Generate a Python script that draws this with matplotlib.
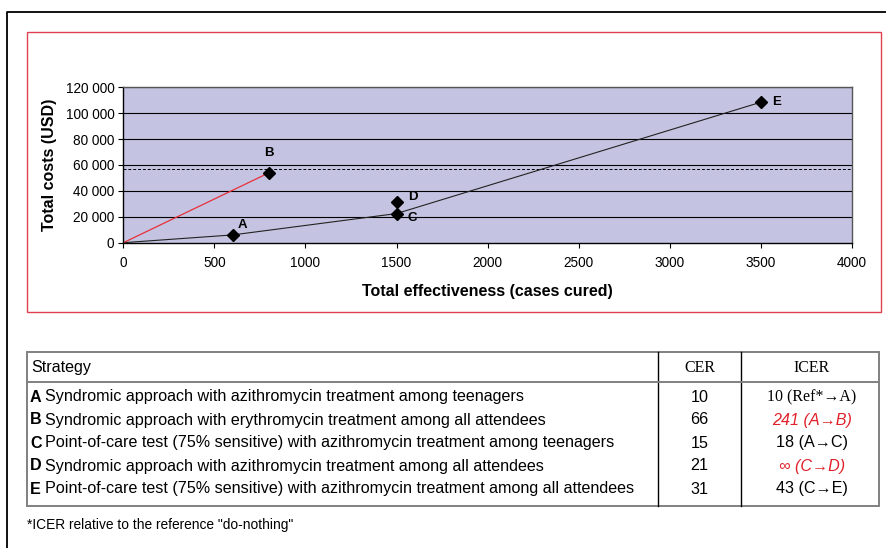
import matplotlib
matplotlib.use("Agg")
import matplotlib.pyplot as plt
from matplotlib.patches import Rectangle

plt.rcParams["font.family"] = ["Liberation Sans", "DejaVu Sans"]

# ---------- Data ---------- #

strategies = ["A", "B", "C", "D", "E"]
effectiveness = [600, 800, 1500, 1500, 3500]      # cases cured
total_costs = [6000, 54000, 22500, 31500, 108500]  # USD
frontier = ["A", "C", "E"]                         # efficient path from do-nothing
extended = ["B"]                                   # compared against A, drawn in red
budget_line = 57000

x_ticks = [0, 500, 1000, 1500, 2000, 2500, 3000, 3500, 4000]
y_ticks = [0, 20000, 40000, 60000, 80000, 100000, 120000]
y_tick_labels = ["0", "20 000", "40 000", "60 000", "80 000", "100 000", "120 000"]

descriptions = [
    "Syndromic approach with azithromycin treatment among teenagers",
    "Syndromic approach with erythromycin treatment among all attendees",
    "Point-of-care test (75% sensitive) with azithromycin treatment among teenagers",
    "Syndromic approach with azithromycin treatment among all attendees",
    "Point-of-care test (75% sensitive) with azithromycin treatment among all attendees",
]
cer = ["10", "66", "15", "21", "31"]
icer = ["10 (Ref*\u2192A)", "241 (A\u2192B)", "18 (A\u2192C)", "\u221e (C\u2192D)", "43 (C\u2192E)"]
icer_dominated = [False, True, False, True, False]
footnote = '*ICER relative to the reference "do-nothing"'

# ---------- Figure ---------- #

W, H = 887, 548
fig = plt.figure(figsize=(W / 100, H / 100), dpi=100)

# overlay in pixel units for frames and the table
bg = fig.add_axes([0, 0, 1, 1], zorder=0)
bg.set_xlim(0, W)
bg.set_ylim(H, 0)
bg.axis("off")

bg.plot([7, 7, W], [H, 12, 12], color="black", lw=1.3, solid_capstyle="butt")
bg.add_patch(Rectangle((27, 32), 854, 280, fill=False, edgecolor="#E04050", lw=1.0))

# ---------- Cost-effectiveness plane ---------- #

px0, px1, py0, py1 = 123.3, 852, 87.3, 242.7
ax = fig.add_axes([px0 / W, 1 - py1 / H, (px1 - px0) / W, (py1 - py0) / H], zorder=2)
ax.set_facecolor("#C4C4E2")
ax.set_xlim(0, 4000)
ax.set_ylim(0, 120000)

for y in y_ticks[1:]:
    ax.axhline(y, color="black", lw=0.8, zorder=1)
ax.axhline(budget_line, color="black", lw=0.7, ls=(0, (3, 2)), zorder=1)

pts = dict(zip(strategies, zip(effectiveness, total_costs)))
fx = [0] + [pts[s][0] for s in frontier]
fy = [0] + [pts[s][1] for s in frontier]
ax.plot(fx, fy, color="#222222", lw=0.8, zorder=2)
for s in extended:
    ax.plot([0, pts[s][0]], [0, pts[s][1]], color="#E8303A", lw=0.9, zorder=2)

ax.plot(effectiveness, total_costs, ls="none", marker="D", ms=6.5,
        color="black", zorder=3, clip_on=False)

label_offsets = {"A": (7, 7), "B": (0, 14), "C": (11.5, -3), "D": (11.5, 3.5), "E": (11.5, 0)}
for s in strategies:
    ax.annotate(s, pts[s], xytext=label_offsets[s], textcoords="offset points",
                ha="center", va="center", fontsize=9.5, fontweight="bold", zorder=4)

ax.set_xticks(x_ticks)
ax.set_xticklabels([str(v) for v in x_ticks])
ax.set_yticks(y_ticks)
ax.set_yticklabels(y_tick_labels)
ax.tick_params(labelsize=9.8, length=3.5, width=0.8, direction="out")
ax.tick_params(axis="x", pad=6)
ax.tick_params(axis="y", pad=3)

for side in ["left", "bottom"]:
    ax.spines[side].set_color("black")
    ax.spines[side].set_linewidth(1.0)
for side in ["top", "right"]:
    ax.spines[side].set_color("#555555")
    ax.spines[side].set_linewidth(1.0)

ax.set_xlabel("Total effectiveness (cases cured)", fontsize=11.5, fontweight="bold", labelpad=10)
ax.set_ylabel("Total costs (USD)", fontsize=11.5, fontweight="bold", labelpad=6)

# ---------- Table ---------- #

tx0, tx1, ty0, ty1 = 27, 879, 352, 505.5
col1, col2 = 658, 741.5
head_bot = 381.5
grey = "#808080"

bg.plot([col1, col1], [ty0, ty1], color="black", lw=1.0)
bg.plot([col2, col2], [ty0, ty1], color="black", lw=1.0)
bg.plot([tx0, tx1], [head_bot, head_bot], color=grey, lw=1.4)
bg.add_patch(Rectangle((tx0, ty0), tx1 - tx0, ty1 - ty0, fill=False, edgecolor=grey, lw=1.4))

serif = ["Liberation Serif", "DejaVu Serif"]
fs = 11.6
cer_x = (col1 + col2) / 2
icer_x = 812
base = 4.5  # baseline sits this far below the row centre (px)

bg.text(31, 367.5 + base, "Strategy", fontsize=fs, va="baseline", ha="left")
bg.text(cer_x, 367.5 + base, "CER", fontsize=11.5, va="baseline", ha="center", family=serif)
bg.text(icer_x, 367.5 + base, "ICER", fontsize=11.5, va="baseline", ha="center", family=serif)

renderer = fig.canvas.get_renderer()
to_data = bg.transData.inverted()

row_y = [397, 420, 443, 466, 489]
for i, s in enumerate(strategies):
    yb = row_y[i] + base
    lead = bg.text(30, yb, s, fontsize=fs, fontweight="bold", va="baseline", ha="left")
    right_px = lead.get_window_extent(renderer).x1
    x_rest = to_data.transform((right_px, 0))[0] + 3.8
    bg.text(x_rest, yb, descriptions[i], fontsize=fs, va="baseline", ha="left")
    bg.text(cer_x, yb, cer[i], fontsize=fs, va="baseline", ha="center")
    if i == 0:
        bg.text(icer_x, yb, icer[i], fontsize=11.4, va="baseline", ha="center", family=serif)
    elif icer_dominated[i]:
        bg.text(icer_x, yb, icer[i], fontsize=fs, va="baseline", ha="center",
                color="#E0202A", style="italic")
    else:
        bg.text(icer_x, yb, icer[i], fontsize=fs, va="baseline", ha="center")

bg.text(27, 525, footnote, fontsize=9.9, va="center", ha="left")

fig.savefig("out.png", dpi=100)
